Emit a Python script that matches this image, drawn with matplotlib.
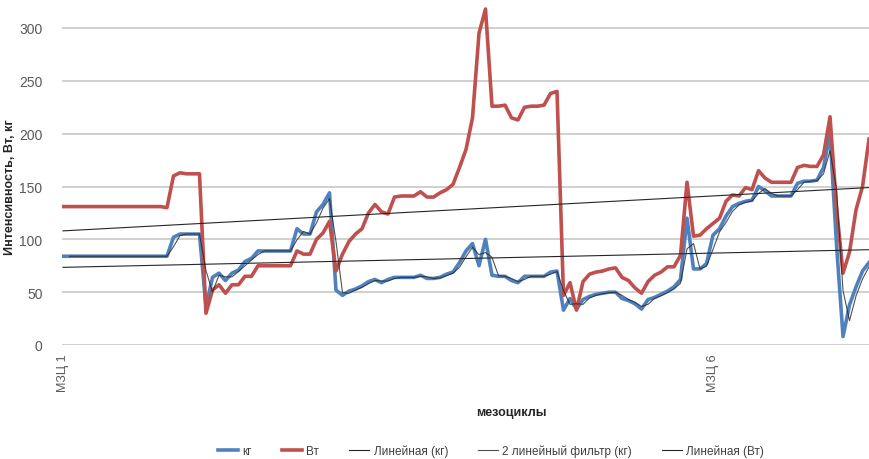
import numpy as np
import pandas as pd
import matplotlib.pyplot as plt

plt.rcParams['font.family'] = ['Liberation Sans', 'DejaVu Sans']

# weekly load values
kg = [84, 84, 84, 84, 84, 84, 84, 84, 84, 84, 84, 84, 84, 84, 84, 84, 84,
      102, 105, 105, 105, 105, 36, 64, 68, 61, 68, 71, 79, 82,
      89, 89, 89, 89, 89, 89, 110, 105, 105, 126, 133, 144, 52, 47,
      51, 53, 56, 60, 62, 59, 62, 64, 64, 64, 64, 66, 63, 63, 64, 67,
      69, 78, 89, 96, 75, 100, 66, 65, 65, 61, 59, 65, 65, 65, 65, 69,
      70, 33, 44, 34, 43, 46, 48, 49, 50, 50, 44, 42, 39, 34, 43, 45,
      48, 51, 55, 62, 120, 72, 72, 77, 104, 110, 122, 131, 134, 136, 137,
      150, 146, 141, 141, 141, 141, 153, 155, 155, 156, 168, 200, 95, 8,
      38, 55, 70, 78]

vt = [131, 131, 131, 131, 131, 131, 131, 131, 131, 131, 131, 131, 131, 131, 131, 131, 130,
      160, 163, 162, 162, 162, 30, 52, 57, 49, 57, 57, 65, 65,
      75, 75, 75, 75, 75, 75, 89, 86, 86, 100, 106, 117, 70, 86,
      98, 105, 110, 125, 133, 126, 124, 140, 141, 141, 141, 145, 140, 140, 144, 147,
      152, 168, 185, 215, 295, 318, 226, 226, 227, 215, 213, 225, 226, 226, 227, 238,
      240, 47, 59, 33, 60, 67, 69, 70, 72, 73, 64, 61, 54, 49, 60, 66,
      69, 74, 74, 85, 154, 103, 104, 110, 115, 120, 136, 142, 141, 149, 147,
      165, 158, 154, 154, 154, 154, 168, 170, 169, 169, 180, 216, 130, 68,
      88, 128, 150, 195]

# linear trend values at first and last week
kg_trend = [73.5, 90.2]
vt_trend = [108, 149]

tick_pos = [0, 100]
tick_labels = ['МЗЦ 1', 'МЗЦ 6']

x = np.arange(len(kg))
kg_ma = pd.Series(kg).rolling(2).mean()
x_ends = [x[0], x[-1]]

fig = plt.figure(figsize=(8.7, 4.6), dpi=100)
ax = fig.add_axes([62 / 870, 1 - 346 / 460, 1 - 62 / 870, 346 / 460])

ax.plot(x, kg, color='#4F81BD', lw=2.6, solid_joinstyle='round', label='кг', zorder=3)
ax.plot(x, vt, color='#C0504D', lw=2.6, solid_joinstyle='round', label='Вт', zorder=3)
ax.plot(x_ends, kg_trend, color='#262626', lw=0.8, label='Линейная (кг)', zorder=4)
ax.plot(x, kg_ma, color='#262626', lw=0.8, alpha=0.8, label='2 линейный фильтр (кг)', zorder=4)
ax.plot(x_ends, vt_trend, color='#262626', lw=0.8, label='Линейная (Вт)', zorder=4)

ax.set_xlim(-0.15, len(kg) - 1 + 0.15)
ax.set_ylim(0, 346 * 300 / 317)
ax.set_yticks(range(0, 301, 50))
ax.yaxis.grid(True, color='#c4c4c4', lw=1.1)
ax.set_axisbelow(True)
for s in ax.spines.values():
    s.set_visible(False)

ax.set_xticks(tick_pos)
ax.set_xticklabels(tick_labels, rotation=90, fontsize=9, color='#595959')
ax.tick_params(axis='both', length=0)
ax.tick_params(axis='y', labelsize=10, labelcolor='#595959', pad=14)
ax.tick_params(axis='x', pad=6)

fig.text(10 / 870, 1 - 187 / 460, 'Интенсивность, Вт, кг', rotation=90,
         ha='center', va='center', fontsize=9, fontweight='bold', color='#262626')
fig.text(511 / 870, 1 - 413 / 460, 'мезоциклы', ha='center', va='center',
         fontsize=9, fontweight='bold', color='#262626')

leg = fig.legend(loc='center', bbox_to_anchor=(491 / 870, 1 - 452 / 460), ncol=5,
                 frameon=False, fontsize=8.5, handlelength=1.7, handletextpad=0.4,
                 columnspacing=2.5)
for t in leg.get_texts():
    t.set_color('#404040')

fig.savefig('out.png', dpi=100)
